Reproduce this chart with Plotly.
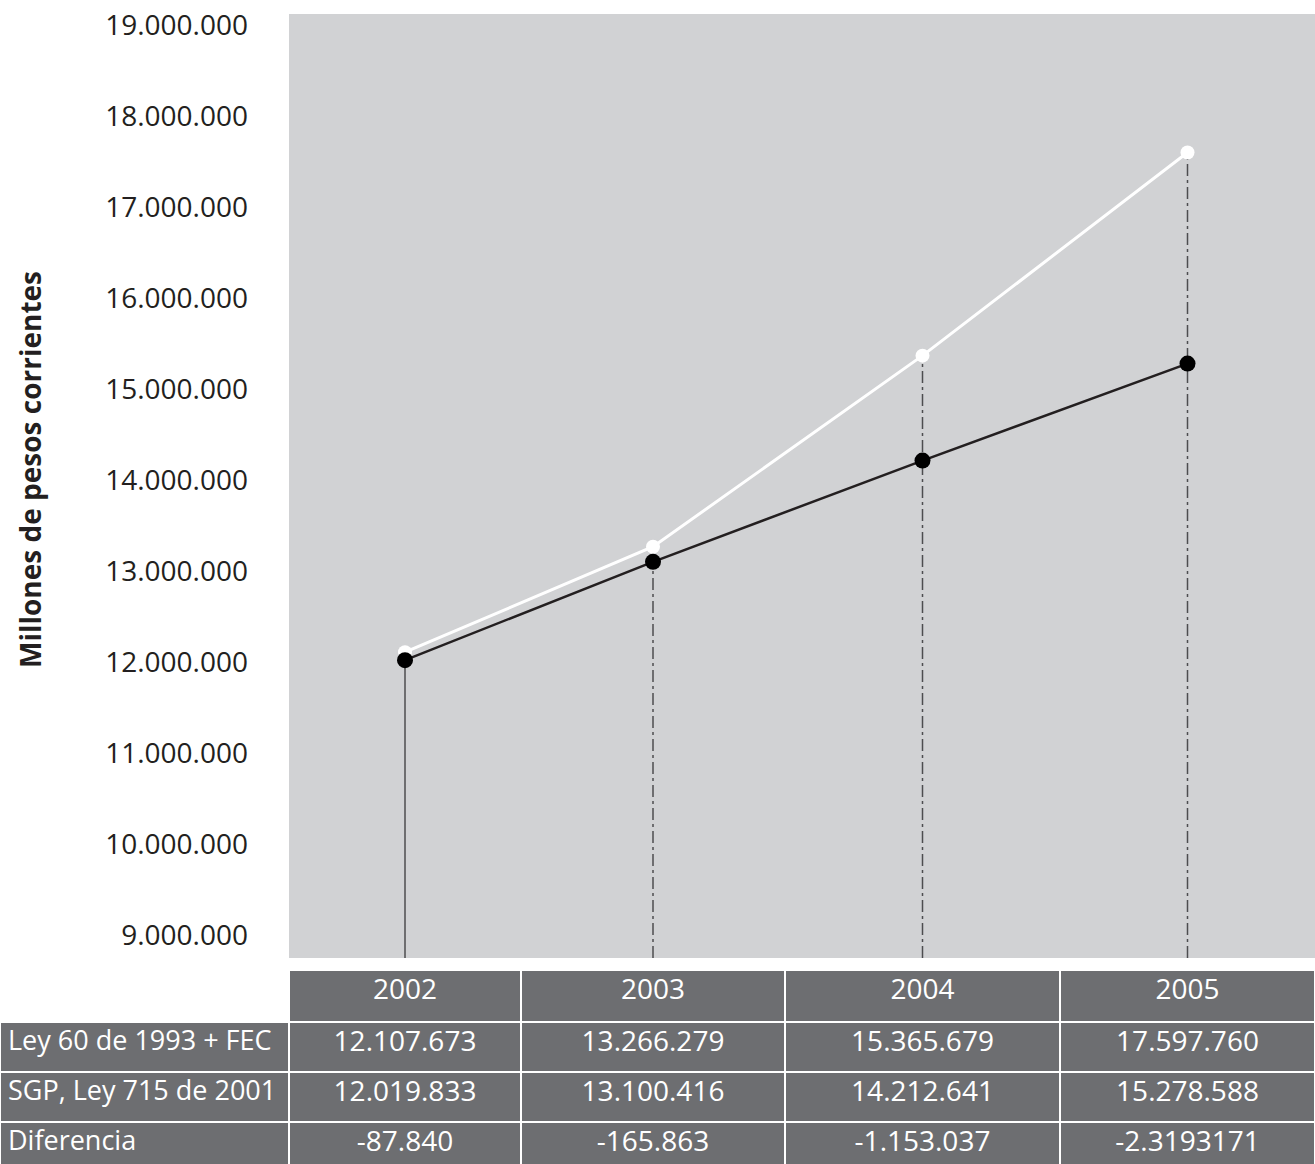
import plotly.graph_objects as go

# ---- data ----
years = ["2002", "2003", "2004", "2005"]
ley60_fec = [12107673, 13266279, 15365679, 17597760]
sgp_ley715 = [12019833, 13100416, 14212641, 15278588]
diferencia_txt = ["-87.840", "-165.863", "-1.153.037", "-2.3193171"]
row_labels = ["Ley 60 de 1993 + FEC", "SGP, Ley 715 de 2001", "Diferencia"]
y_title = "Millones de pesos corrientes"

# ---- layout constants ----
W, H = 1315, 1164
col_widths = [289, 232, 264, 275, 255]
plot_top_px, plot_bot_px = 14, 958
table_top_px = 970
y_range = [8747000, 19120000]
grey_bg = "#d1d2d4"
table_fill = "#6d6e71"
txt_col = "#231f20"
FONT = "Open Sans"

def fmt(v):
    return f"{v:,}".replace(",", ".")

# x positions of the years = centres of the table columns
edges = [sum(col_widths[:i]) for i in range(len(col_widths) + 1)]
x_pos = [(edges[i + 1] + edges[i + 2]) / 2 for i in range(len(years))]

fig = go.Figure()

# drop lines
for i, yr in enumerate(years):
    top = max(ley60_fec[i], sgp_ley715[i])
    fig.add_trace(go.Scatter(
        x=[x_pos[i], x_pos[i]], y=[y_range[0], top], mode="lines",
        line=dict(color="#4d4d4f", width=1.5,
                  dash="solid" if i == 0 else "12px,4px,3px,4px"),
        hoverinfo="skip", showlegend=False))

fig.add_trace(go.Scatter(
    x=x_pos, y=ley60_fec, mode="lines+markers", name="Ley 60 de 1993 + FEC",
    line=dict(color="#ffffff", width=3),
    marker=dict(color="#ffffff", size=14), showlegend=False,
    text=years))
fig.add_trace(go.Scatter(
    x=x_pos, y=sgp_ley715, mode="lines+markers", name="SGP, Ley 715 de 2001",
    line=dict(color="#231f20", width=2.5),
    marker=dict(color="#000000", size=16), showlegend=False,
    text=years))

# table
header_vals = [""] + years
cell_vals = [[lab.replace(" ", "\u00a0") for lab in row_labels]]
for i in range(len(years)):
    cell_vals.append([fmt(ley60_fec[i]), fmt(sgp_ley715[i]), diferencia_txt[i]])

col_font_sizes = [27] + [28] * len(years)

fig.add_trace(go.Table(
    domain=dict(x=[0, 1], y=[0, (H - table_top_px) / H]),
    columnwidth=col_widths,
    header=dict(values=header_vals,
                fill_color=["#ffffff"] + [table_fill] * len(years),
                line=dict(color="#ffffff", width=2),
                font=dict(family=FONT, size=28, color="#ffffff"),
                align="center", height=52),
    cells=dict(values=cell_vals,
               fill_color=table_fill,
               line=dict(color="#ffffff", width=2),
               font=dict(family=FONT, size=col_font_sizes, color="#ffffff"),
               align=["left"] + ["center"] * len(years), height=50),
))

fig.add_annotation(
    text="<b>" + y_title + "</b>", textangle=-90,
    x=30 / W, y=1 - 470 / H, xref="paper", yref="paper",
    xanchor="center", yanchor="middle",
    showarrow=False, font=dict(family=FONT, size=28, color=txt_col))

fig.update_layout(
    width=W, height=H,
    margin=dict(l=0, r=0, t=0, b=0, autoexpand=False),
    paper_bgcolor="#ffffff", plot_bgcolor=grey_bg,
    separators=",.",
    font=dict(family=FONT, color=txt_col),
    xaxis=dict(domain=[col_widths[0] / W, 1], range=[edges[1], edges[-1]],
               showgrid=False, zeroline=False, showticklabels=False,
               automargin=False, fixedrange=True),
    yaxis=dict(domain=[(H - plot_bot_px) / H, (H - plot_top_px) / H],
               range=y_range, tickvals=list(range(9000000, 19000001, 1000000)),
               tickformat=",d", showgrid=False, zeroline=False,
               automargin=False, ticklabelstandoff=40,
               tickfont=dict(family=FONT, size=28, color=txt_col)),
    showlegend=False,
)

fig.write_html("out.html")
